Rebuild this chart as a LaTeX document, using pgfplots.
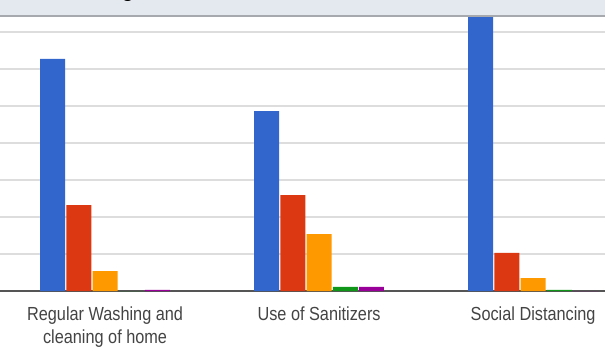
\documentclass[border=0pt]{standalone}
\usepackage{pgfplots}
\pgfplotsset{compat=1.18}
\usepackage{fontspec}
\setmainfont{Liberation Sans}
\definecolor{gblue}{HTML}{3366CC}
\definecolor{gred}{HTML}{DC3912}
\definecolor{gorange}{HTML}{FF9900}
\definecolor{ggreen}{HTML}{109618}
\definecolor{gpurple}{HTML}{990099}
\definecolor{gridgray}{HTML}{DDDDDD}
\definecolor{axisgray}{HTML}{555555}
\definecolor{bandcol}{HTML}{E4E9F0}
\definecolor{bordercol}{HTML}{A6AAAE}
\definecolor{labelcol}{HTML}{444444}
\begin{document}
\begin{tikzpicture}[x=1bp,y=1bp]
\useasboundingbox (0,0) rectangle (605,350);
\clip (0,0) rectangle (605,350);
\fill[white] (0,0) rectangle (605,350);
\begin{axis}[
  at={(0bp,59bp)}, anchor=south west,
  scale only axis, width=605bp, height=274bp,
  xmin=-0.491, xmax=2.336, ymin=0, ymax=7.405,
  ybar=1.2bp, bar width=25bp,
  axis line style={draw=none},
  ytick={1,2,3,4,5,6,7}, yticklabels={},
  ymajorgrids, grid style={color=gridgray, line width=1.4bp},
  major tick length=0pt,
  extra y ticks={0}, extra y tick labels={},
  extra y tick style={grid style={color=axisgray, line width=1.6bp}},
  xtick={0,1,2},
  xticklabels={{Regular Washing and\\cleaning of home},{Use of Sanitizers},{Social Distancing}},
  xticklabel style={anchor=north, inner sep=0pt, yshift=-16bp, align=center,
    font=\fontsize{19}{23}\selectfont, text=labelcol, xscale=0.86},
  every axis plot/.append style={draw=none},
]
\addplot[fill=gblue] coordinates {(0,6.27) (1,4.86) (2,7.5)};
\addplot[fill=gred] coordinates {(0,2.32) (1,2.59) (2,1.03)};
\addplot[fill=gorange] coordinates {(0,0.54) (1,1.54) (2,0.35)};
\addplot[fill=ggreen] coordinates {(0,0) (1,0.11) (2,0.03)};
\addplot[fill=gpurple] coordinates {(0,0.03) (1,0.11) (2,0)};
\end{axis}
\fill[bandcol] (0,334) rectangle (605,350);
\draw[bordercol, line width=2bp] (0,334) -- (605,334);
\node[anchor=base, inner sep=0pt, font=\fontsize{19}{20}\selectfont\bfseries] at (128,352.5) {g};
\end{tikzpicture}
\end{document}
